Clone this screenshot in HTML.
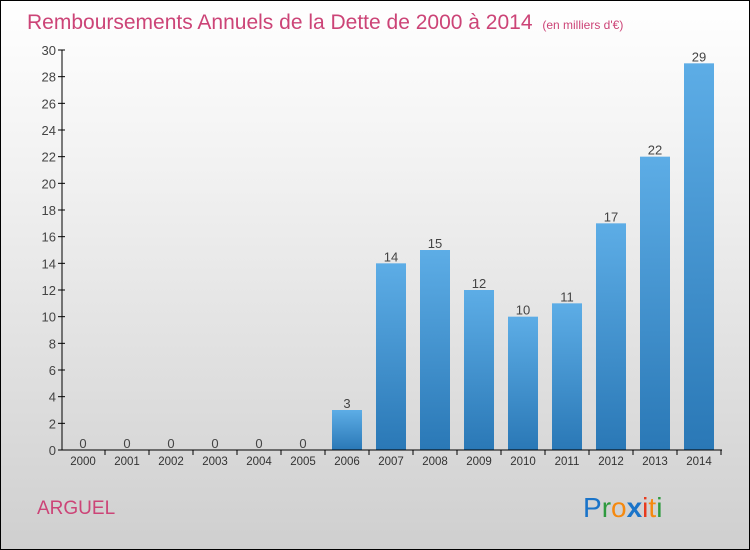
<!DOCTYPE html>
<html><head><meta charset="utf-8"><style>
body{margin:0}
#c{width:750px;height:550px;position:relative;box-sizing:border-box;border:1px solid #000;background:linear-gradient(#fff,#f2f2f2 30%,#cfcfcf);font-family:"Liberation Sans",sans-serif;overflow:hidden}
</style></head><body>
<div id="c">
<svg width="750" height="550" style="position:absolute;left:-1px;top:-1px">
<defs><linearGradient id="g" x1="0" y1="0" x2="0" y2="1"><stop offset="0" stop-color="#5dade6"/><stop offset="1" stop-color="#2a78b6"/></linearGradient></defs>
<text x="27" y="29" font-size="21" fill="#cc4477">Remboursements Annuels de la Dette de 2000 à 2014 <tspan font-size="12" dx="4">(en milliers d'€)</tspan></text>
<g id="plot"></g>
<text x="37" y="514" font-size="19" fill="#cc4477">ARGUEL</text>
<text x="583" y="517" font-size="28"><tspan fill="#1a74c9">P</tspan><tspan fill="#2e9a3e">r</tspan><tspan fill="#f5890f">o</tspan><tspan fill="#1a74c9" font-weight="bold">x</tspan><tspan fill="#e83a1e">i</tspan><tspan fill="#f5890f">t</tspan><tspan fill="#2e9a3e">i</tspan></text>
</svg>
</div>
<script>
const categories=["2000","2001","2002","2003","2004","2005","2006","2007","2008","2009","2010","2011","2012","2013","2014"];
const values=[0,0,0,0,0,0,3,14,15,12,10,11,17,22,29];
const yTicks=[0,2,4,6,8,10,12,14,16,18,20,22,24,26,28,30];
const NS="http://www.w3.org/2000/svg";
const g=document.getElementById('plot');
const y=v=>450-v*(400/30);
const x=i=>83+i*44;
function el(t,a,txt){const e=document.createElementNS(NS,t);for(const k in a)e.setAttribute(k,a[k]);if(txt!==undefined)e.textContent=txt;g.appendChild(e);return e;}
yTicks.forEach(t=>{
 const l=el('line',{x1:58,x2:65,y1:y(t),y2:y(t),stroke:'#000'});
 
 
 const tx=el('text',{x:56,y:y(t)+5,'font-size':13,fill:'#444','text-anchor':'end'},t);
 
 
});
categories.forEach((c,i)=>{
 const v=values[i];
 if(v>0){const r=el('rect',{x:x(i)-15,y:y(v),width:30,height:y(0)-y(v),fill:'url(#g)'});
 
 }
 const vl=el('text',{x:x(i),y:y(v)-2,'font-size':13,fill:'#444','text-anchor':'middle'},v);
 
 
 const tk=el('line',{x1:x(i)+22,x2:x(i)+22,y1:450,y2:455,stroke:'#000'});
 
 
 const cl=el('text',{x:x(i),y:465,'font-size':11.5,fill:'#333','text-anchor':'middle'},c);
 
 
});
const ya=el('line',{x1:62,x2:62,y1:50,y2:450,stroke:'#000'});


const xa=el('line',{x1:62,x2:722,y1:450,y2:450,stroke:'#000'});


</script>
</body></html>
